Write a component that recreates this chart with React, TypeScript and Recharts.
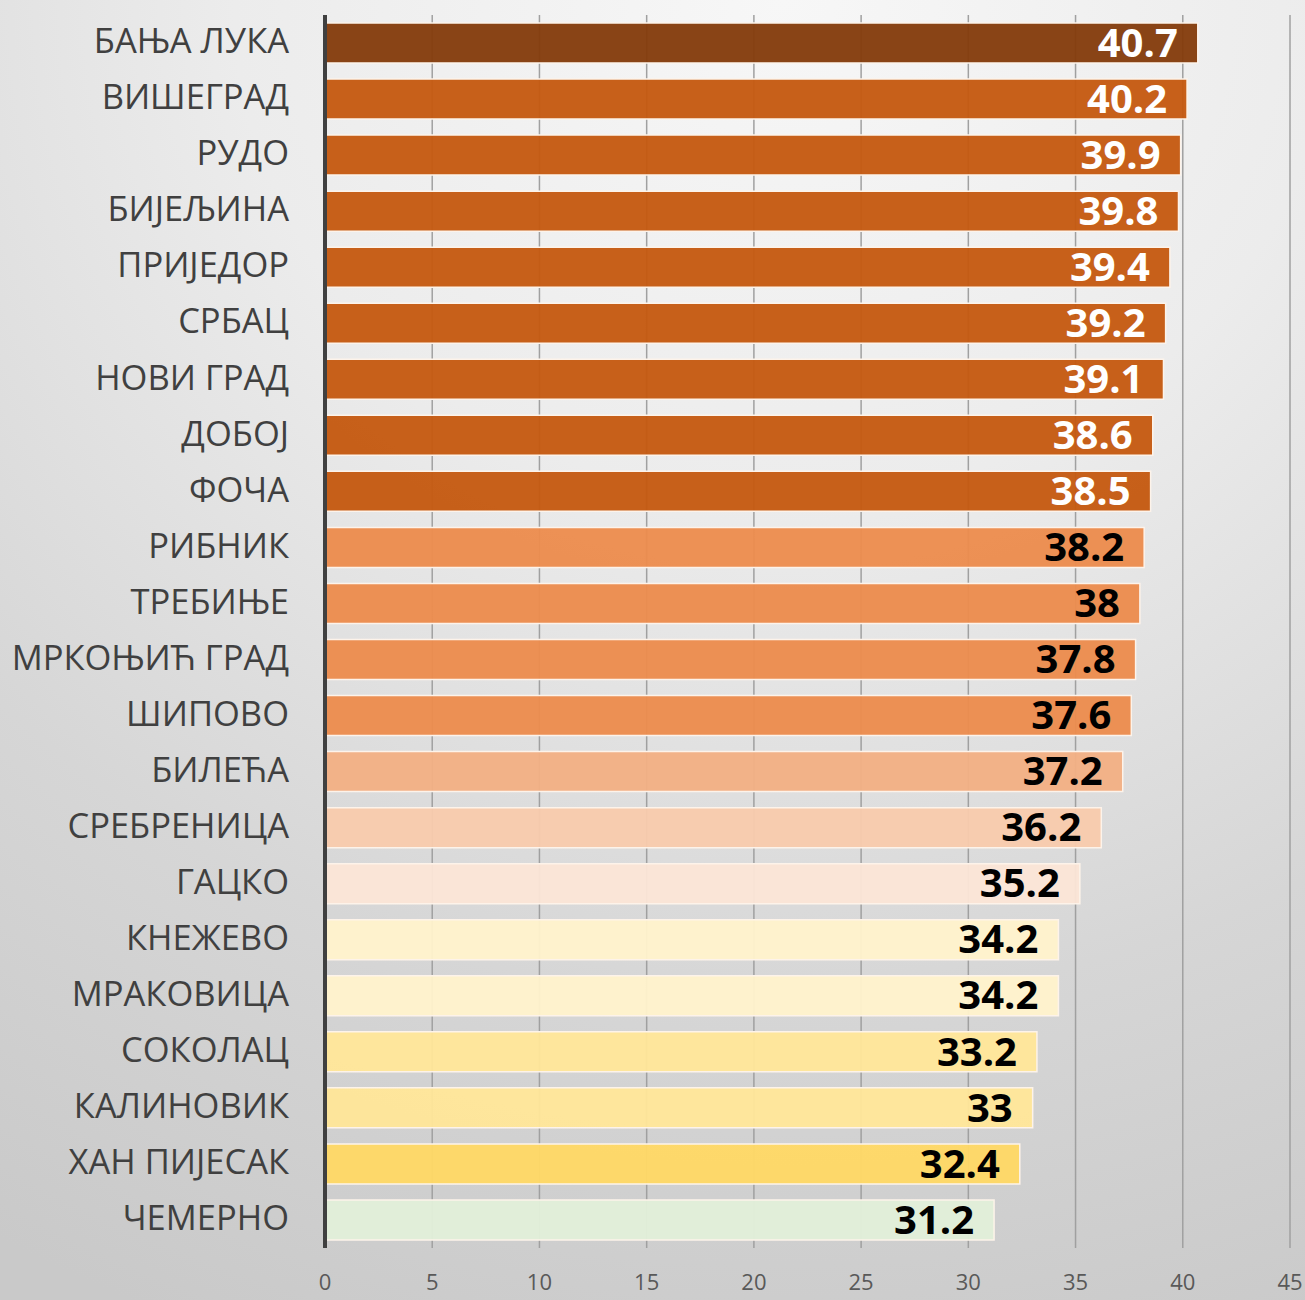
import React from "react";
import { BarChart, Bar, XAxis, YAxis, CartesianGrid, LabelList, Cell } from "recharts";

const categories = [
  "БАЊА ЛУКА", "ВИШЕГРАД", "РУДО", "БИЈЕЉИНА", "ПРИЈЕДОР", "СРБАЦ", "НОВИ ГРАД", "ДОБОЈ", "ФОЧА",
  "РИБНИК", "ТРЕБИЊЕ", "МРКОЊИЋ ГРАД", "ШИПОВО", "БИЛЕЋА", "СРЕБРЕНИЦА", "ГАЦКО", "КНЕЖЕВО",
  "МРАКОВИЦА", "СОКОЛАЦ", "КАЛИНОВИК", "ХАН ПИЈЕСАК", "ЧЕМЕРНО",
];
const values = [40.7, 40.2, 39.9, 39.8, 39.4, 39.2, 39.1, 38.6, 38.5, 38.2, 38, 37.8, 37.6, 37.2, 36.2, 35.2, 34.2, 34.2, 33.2, 33, 32.4, 31.2];
const barColors = [
  "#843c0c", "#c55a11", "#c55a11", "#c55a11", "#c55a11", "#c55a11", "#c55a11", "#c55a11", "#c55a11",
  "#ec8c4e", "#ec8c4e", "#ec8c4e", "#ec8c4e", "#f3b084", "#f8cbad", "#fbe5d6", "#fff2cc",
  "#fff2cc", "#ffe699", "#ffe699", "#ffd966", "#e2efda",
];
const labelColors = [
  "#ffffff", "#ffffff", "#ffffff", "#ffffff", "#ffffff", "#ffffff", "#ffffff", "#ffffff", "#ffffff",
  "#000000", "#000000", "#000000", "#000000", "#000000", "#000000", "#000000", "#000000",
  "#000000", "#000000", "#000000", "#000000", "#000000",
];
const xTicks = [0, 5, 10, 15, 20, 25, 30, 35, 40, 45];

const data = categories.map((name, i) => ({ name, value: values[i], color: barColors[i] }));

const ValueLabel = (props: any) => {
  const { x, y, width, height, index, value } = props;
  return (
    <text
      x={x + width - 20}
      y={y + height / 2 + 3}
      textAnchor="end"
      dominantBaseline="middle"
      fontFamily="'Open Sans', sans-serif"
      fontWeight={700}
      fontSize={40}
      fill={labelColors[index]}
    >
      {value}
    </text>
  );
};

const CategoryTick = (props: any) => {
  const { x, y, payload } = props;
  return (
    <text
      x={x}
      y={y + 1}
      textAnchor="end"
      dominantBaseline="middle"
      fontFamily="'Open Sans', sans-serif"
      fontSize={34.5}
      fill="#404040"
    >
      {payload.value}
    </text>
  );
};

const NumberTick = (props: any) => {
  const { x, y, payload } = props;
  return (
    <text
      x={x}
      y={y}
      textAnchor="middle"
      dominantBaseline="middle"
      fontFamily="'Open Sans', sans-serif"
      fontSize={22}
      fill="#595959"
    >
      {payload.value}
    </text>
  );
};

export default function App() {
  return (
    <div
      style={{
        position: "absolute",
        left: 0,
        top: 0,
        width: 1305,
        height: 1300,
        background: "radial-gradient(ellipse 120% 110% at 60% 0%, #f7f7f7 0%, #ececec 35%, #d6d6d6 70%, #c9c9c9 100%)",
      }}
    >
      <BarChart
        width={1305}
        height={1300}
        data={data}
        layout="vertical"
        margin={{ top: 15, right: 15, bottom: 0, left: 0 }}
        barSize={40}
      >
        <CartesianGrid horizontal={false} vertical={true} stroke="#a0a0a0" strokeWidth={1.5} />
        <XAxis
          type="number"
          domain={[0, 45]}
          ticks={xTicks}
          axisLine={false}
          tickLine={false}
          tickSize={0}
          tickMargin={36}
          height={52}
          interval={0}
          tick={<NumberTick />}
        />
        <YAxis
          type="category"
          dataKey="name"
          width={325}
          axisLine={{ stroke: "#404040", strokeWidth: 4 }}
          tickLine={false}
          tickMargin={36}
          tickSize={0}
          interval={0}
          tick={<CategoryTick />}
        />
        <Bar dataKey="value" isAnimationActive={false} stroke="#fdf3ea" strokeWidth={1.5} fillOpacity={0.96}>
          {data.map((d, i) => (
            <Cell key={i} fill={d.color} />
          ))}
          <LabelList dataKey="value" content={<ValueLabel />} />
        </Bar>
      </BarChart>
    </div>
  );
}
